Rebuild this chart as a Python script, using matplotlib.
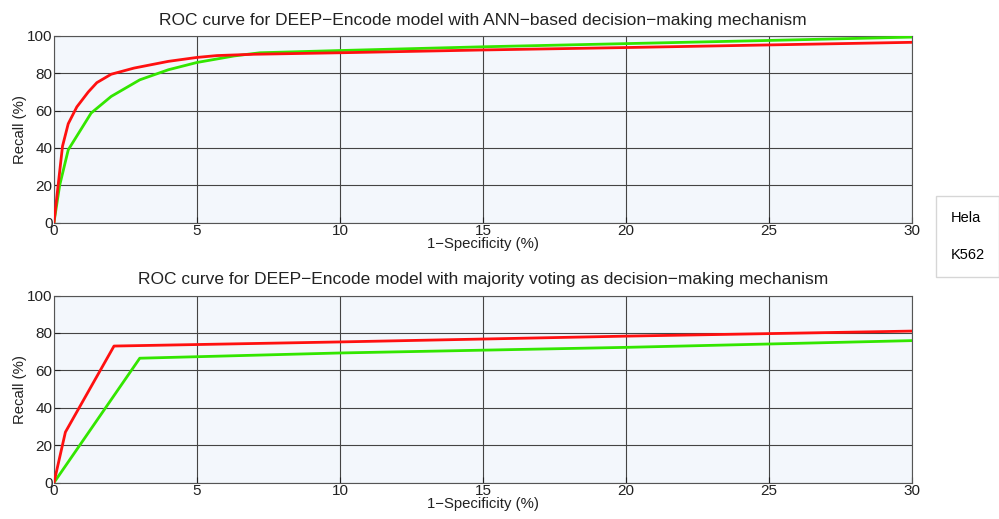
import matplotlib
matplotlib.use("Agg")
import matplotlib.pyplot as plt

plt.rcParams['font.family'] = ['Liberation Sans', 'DejaVu Sans']

# ANN-based decision making (top panel)
ann_hela_fpr = [0, 0.3, 0.5, 0.8, 1.2, 1.5, 2.0, 2.8, 4.0, 5.0, 5.7, 7.0, 10, 15, 20, 25, 30]
ann_hela_tpr = [0, 41, 53, 62, 70, 75, 79.5, 82.8, 86.4, 88.5, 89.5, 90.2, 91, 92.5, 93.8, 95.2, 96.6]
ann_k562_fpr = [0, 0.2, 0.5, 1.3, 2.0, 3.0, 4.0, 5.0, 6.3, 7.2, 10, 15, 20, 25, 30]
ann_k562_tpr = [0, 20, 39, 58.7, 67.6, 76.5, 81.9, 85.8, 89.3, 91.0, 92.2, 94.2, 95.9, 97.6, 99.4]

# majority voting (bottom panel)
mv_hela_fpr = [0, 0.4, 2.1, 10, 20, 30]
mv_hela_tpr = [0, 27, 73, 75.2, 78.3, 81]
mv_k562_fpr = [0, 3.0, 5, 10, 20, 30]
mv_k562_tpr = [0, 66.5, 67.3, 69.3, 72.3, 75.9]

xticks = [0, 5, 10, 15, 20, 25, 30]
yticks = [0, 20, 40, 60, 80, 100]

titles = ["ROC curve for DEEP\u2212Encode model with ANN\u2212based decision\u2212making mechanism",
          "ROC curve for DEEP\u2212Encode model with majority voting as decision\u2212making mechanism"]

red = '#ff1010'
green = '#33e600'

fig = plt.figure(figsize=(9.99, 5.19), dpi=100)
ax1 = fig.add_axes([0.054, 0.571, 0.859, 0.3597])
ax2 = fig.add_axes([0.054, 0.070, 0.859, 0.3606])

ax1.plot(ann_hela_fpr, ann_hela_tpr, color=red, lw=2.0, label='Hela', zorder=4)
ax1.plot(ann_k562_fpr, ann_k562_tpr, color=green, lw=2.0, label='K562', zorder=3)
ax2.plot(mv_hela_fpr, mv_hela_tpr, color=red, lw=2.0, zorder=4)
ax2.plot(mv_k562_fpr, mv_k562_tpr, color=green, lw=2.0, zorder=3)

for ax, t in zip([ax1, ax2], titles):
    ax.set_xlim(0, 30)
    ax.set_ylim(0, 100)
    ax.set_xticks(xticks)
    ax.set_yticks(yticks)
    ax.set_facecolor('#f3f7fc')
    ax.grid(True, color='#444444', lw=0.8)
    ax.set_axisbelow(True)
    ax.tick_params(direction='in', length=4, labelsize=11, pad=1, colors='#222222')
    for s in ax.spines.values():
        s.set_color('#555555')
        s.set_linewidth(0.8)
    ax.set_title(t, fontsize=12.5, pad=8, color='#222222')
    ax.set_xlabel("1\u2212Specificity (%)", fontsize=10.7, labelpad=-1, color='#222222')
    ax.set_ylabel("Recall (%)", fontsize=10.7, labelpad=0, color='#222222')

h, l = ax1.get_legend_handles_labels()
leg = fig.legend(h, l, loc='center', bbox_to_anchor=(0.9685, 0.544), handlelength=0,
                 handletextpad=0, fontsize=10.5, frameon=True, fancybox=False,
                 edgecolor='#cccccc', labelspacing=1.6, borderpad=1.0)
for line in leg.get_lines():
    line.set_visible(False)

fig.savefig("out.png", dpi=100)
